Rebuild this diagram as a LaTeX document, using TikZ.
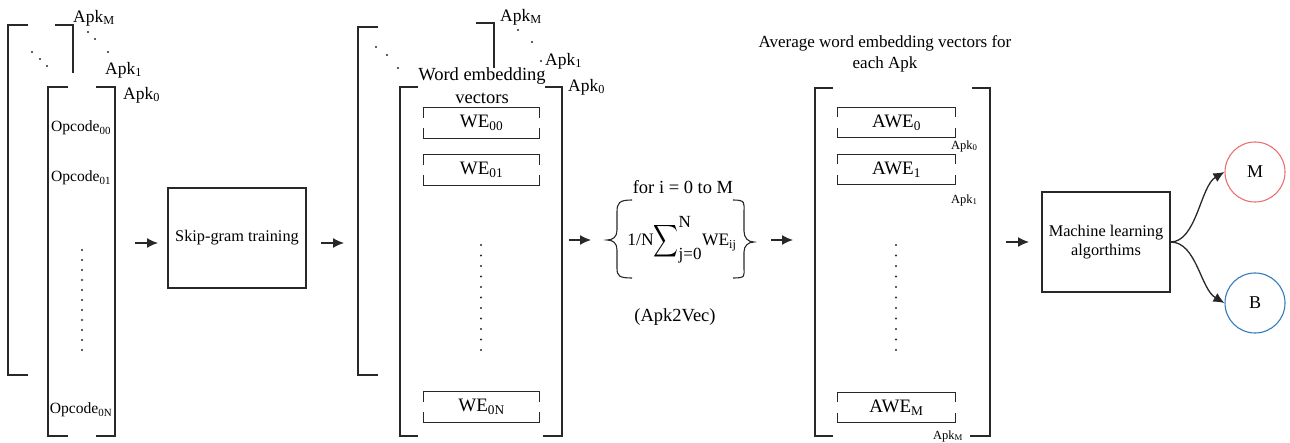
\documentclass[tikz,border=0pt]{standalone}
\usepackage{amsmath}
\usepackage{graphicx}
\usepackage{fontspec}
\setmainfont{Liberation Serif}
\usetikzlibrary{arrows.meta}

\definecolor{ink}{RGB}{40,40,40}
\definecolor{redring}{RGB}{236,112,112}
\definecolor{bluering}{RGB}{52,122,190}

% bracket-style box: top and bottom rails with short side ticks
\newcommand\railbox[1]{%
  \draw[rail] ([yshift=-10pt]#1.north west) -- (#1.north west) -- (#1.north east) -- ([yshift=-10pt]#1.north east);
  \draw[rail] ([yshift=10pt]#1.south west) -- (#1.south west) -- (#1.south east) -- ([yshift=10pt]#1.south east);}

\begin{document}
\begin{tikzpicture}[x=1pt,y=-1pt,
  rail/.style={draw=ink,line width=1.1pt},
  biglab/.style={font=\fontsize{18.5}{22}\selectfont,inner sep=0pt},
  oplab/.style={font=\fontsize{15.6}{18}\selectfont,inner sep=0pt},
  smalllab/.style={font=\fontsize{12.5}{14}\selectfont,inner sep=0pt,anchor=west},
  apklab/.style={font=\fontsize{17.5}{20}\selectfont,inner sep=0pt,anchor=west},
  vecbox/.style={minimum width=116pt,minimum height=30pt,inner sep=0pt,font=\fontsize{19}{22}\selectfont},
  procbox/.style={draw=ink,line width=1.1pt,inner sep=0pt,align=center,font=\fontsize{16.3}{19.5}\selectfont},
  flow/.style={draw=ink,line width=1.3pt,-{Latex[length=11pt,width=10pt]}},
  ring/.style={circle,line width=1.1pt,minimum size=60pt,inner sep=0pt,font=\fontsize{18}{20}\selectfont},
  dot/.style={fill=ink,draw=none},
]
\useasboundingbox (0,0) rectangle (1290,443);

% ---------------- opcode sequences per Apk ----------------
\draw[rail] (28,25) -- (8,25) -- (8,375) -- (28,375);
\draw[rail] (55,25) -- (73,25) -- (73,73);
\draw[rail] (68,87) -- (48,87) -- (48,436) -- (68,436);
\draw[rail] (96,87) -- (115,87) -- (115,436) -- (96,436);
\foreach \p in {(32,52),(40,59),(47,66),(88,32),(95,39),(108,52)} \fill[dot] \p circle (1.1pt);
\node[apklab] (lapkm) at (73,18) {Apk\textsubscript{M}};
\node[apklab] (lapk1) at (105,70) {Apk\textsubscript{1}};
\node[apklab] (lapk0) at (123,95) {Apk\textsubscript{0}};
\node[oplab] (op00) at (81,128) {Opcode\textsubscript{00}};
\node[oplab] (op01) at (81,178) {Opcode\textsubscript{01}};
\node[oplab] (op0n) at (81,410) {Opcode\textsubscript{0N}};
\foreach \k in {0,...,10} \fill[dot] (82,250+10*\k) circle (1.1pt);

% ---------------- skip-gram ----------------
\coordinate (a1s) at (135,243);
\coordinate (a1e) at (158,243);
\node[procbox,minimum width=138pt,minimum height=100pt] (skip) at (237,238) {Skip-gram training};
\coordinate (a2s) at (321,243);
\coordinate (a2e) at (344,243);
\draw[flow] (a1s) -- (a1e);
\draw[flow] (a2s) -- (a2e);

% ---------------- word embedding vectors ----------------
\draw[rail] (378,27) -- (358,27) -- (358,375) -- (378,375);
\draw[rail] (476,23) -- (494,23) -- (494,68);
\draw[rail] (418,87) -- (400,87) -- (400,436) -- (418,436);
\draw[rail] (545,87) -- (562,87) -- (562,436) -- (543,436);
\foreach \p in {(376,47),(387,55),(398,68),(518,30),(532,42),(541,61)} \fill[dot] \p circle (1.1pt);
\node[apklab] (mapkm) at (500,17) {Apk\textsubscript{M}};
\node[apklab] (mapk1) at (545,61) {Apk\textsubscript{1}};
\node[apklab] (mapk0) at (568,87) {Apk\textsubscript{0}};
\node[biglab,align=center,font=\fontsize{18.5}{23}\selectfont] (wetitle) at (482,86) {Word embedding\\vectors};
\node[vecbox] (we00) at (481.5,123) {WE\textsubscript{00}};
\node[vecbox] (we01) at (481.5,170) {WE\textsubscript{01}};
\node[vecbox] (we0n) at (481.5,407) {WE\textsubscript{0N}};
\railbox{we00}\railbox{we01}\railbox{we0n}
\foreach \k in {0,...,10} \fill[dot] (481,245+10.5*\k) circle (1.1pt);

% ---------------- Apk2Vec averaging ----------------
\coordinate (a3s) at (569,240);
\coordinate (a3e) at (591,240);
\draw[flow] (a3s) -- (a3e);
\draw[rail] (632,200) .. controls (619,200) and (617,203) .. (617,212) -- (617,230)
  .. controls (617,237) and (613,240) .. (607,240)
  .. controls (613,240) and (617,243) .. (617,250) -- (617,268)
  .. controls (617,276) and (619,278) .. (632,278);
\draw[rail] (733,200) .. controls (746,200) and (744,203) .. (744,212) -- (744,231)
  .. controls (744,238) and (748,242) .. (754,242)
  .. controls (748,242) and (744,246) .. (744,252) -- (744,268)
  .. controls (744,276) and (746,278) .. (733,278);
\node[biglab] (fori) at (683,187) {for i = 0 to M};
\node[inner sep=0pt,font=\fontsize{17.5}{20}\selectfont] (avg) at (682,240) {1/N$\mathop{\vcenter{\hbox{\scalebox{1.0}[1.3]{$\displaystyle\sum$}}}}\nolimits_{\mbox{\fontsize{17}{17}\selectfont j=0}}^{\mbox{\fontsize{17}{17}\selectfont N}}$WE\textsubscript{ij}};
\node[biglab] (a2v) at (675,317) {(Apk2Vec)};
\coordinate (a4s) at (771,240);
\coordinate (a4e) at (793,240);
\draw[flow] (a4s) -- (a4e);

% ---------------- averaged vectors ----------------
\node[biglab,align=center,font=\fontsize{17}{21}\selectfont] (awetitle) at (885,54) {Average word embedding vectors for\\each Apk};
\draw[rail] (833,88) -- (815,88) -- (815,436) -- (833,436);
\draw[rail] (972,88) -- (990,88) -- (990,436) -- (970,436);
\node[vecbox,minimum width=117pt] (awe0) at (896.5,122.5) {AWE\textsubscript{0}};
\node[vecbox,minimum width=117pt] (awe1) at (896.5,169.5) {AWE\textsubscript{1}};
\node[vecbox,minimum width=117pt] (awem) at (896.5,407.5) {AWE\textsubscript{M}};
\railbox{awe0}\railbox{awe1}\railbox{awem}
\node[smalllab] (rapk0) at (951,146) {Apk\textsubscript{0}};
\node[smalllab] (rapk1) at (951,200) {Apk\textsubscript{1}};
\node[smalllab] (rapkm) at (933,436) {Apk\textsubscript{M}};
\foreach \k in {0,...,10} \fill[dot] (896,245+10.5*\k) circle (1.1pt);

% ---------------- classification ----------------
\coordinate (a5s) at (1006,242);
\coordinate (a5e) at (1029,242);
\draw[flow] (a5s) -- (a5e);
\node[procbox,minimum width=128pt,minimum height=100pt] (ml) at (1106,242) {Machine learning\\algorthims};
\node[ring,draw=redring] (mal) at (1255,172) {M};
\node[ring,draw=bluering] (ben) at (1255,303) {B};
\draw[flow] (ml.east) .. controls +(26,0) and +(-24,14) .. (mal.west);
\draw[flow] (ml.east) .. controls +(26,0) and +(-24,-14) .. (ben.west);
\end{tikzpicture}
\end{document}
